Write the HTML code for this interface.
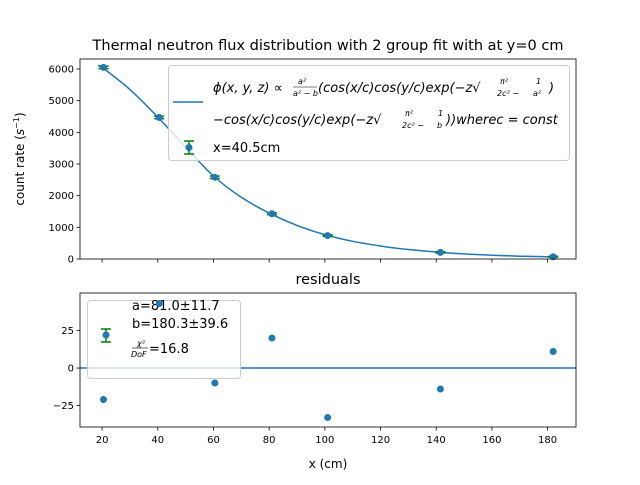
<!DOCTYPE html>
<html><head><meta charset="utf-8"><style>
body{margin:0;background:#fff}
svg{font-family:"DejaVu Sans","Liberation Sans",sans-serif}
</style></head><body>
<svg id="c" width="640" height="480" viewBox="0 0 640 480" xmlns="http://www.w3.org/2000/svg">
<text x="328" y="50" text-anchor="middle" font-size="14.5">Thermal neutron flux distribution with 2 group fit with at y=0 cm</text>
<text x="328" y="284" text-anchor="middle" font-size="14.5">residuals</text>
<text x="328" y="468" text-anchor="middle" font-size="12">x (cm)</text>
<text transform="translate(24,159) rotate(-90)" text-anchor="middle" font-size="12">count rate (<tspan font-style="italic">s</tspan><tspan font-size="8" dy="-5">−1</tspan><tspan dy="5">)</tspan></text>
<g id="top"></g>
<g id="bot"></g>
</svg>
<script>
const xData=[20.5,40.5,60.5,81,101,141.5,182];
const yData=[6050,4470,2580,1430,740,210,70];
const yErr=[40,40,40,30,25,20,15];
const residuals=[-21,43,-10,20,-33,-14,11];
const fitX=[19,20,30,40,50,60,70,80,90,100,110,120,130,140,150,160,170,180,183];
const fitY=[6080,6050,5350,4480,3530,2620,1950,1450,1060,770,560,410,300,220,160,120,90,70,65];
const xTicks=[20,40,60,80,100,120,140,160,180];
const yTicksTop=[0,1000,2000,3000,4000,5000,6000];
const yTicksBot=[-25,0,25];
{
const NS="http://www.w3.org/2000/svg";
const L=80,R=576,T1=59,B1=259,T2=293,B2=427;
const X0=12.06,X1=190.2;
const sx=v=>L+(v-X0)*(R-L)/(X1-X0);
const syT=v=>B1-v*(B1-T1)/6316;
const syB=v=>B2-(v+39.3)*(B2-T2)/89.3;
function el(p,tag,a,txt){const e=document.createElementNS(NS,tag);for(const k in a)e.setAttribute(k,a[k]);if(txt!==undefined)e.textContent=txt;p.appendChild(e);return e;}
const topG=document.getElementById('top'),botG=document.getElementById('bot');
const P=fitX.map((x,i)=>[sx(x),syT(fitY[i])]);
let d='M'+P[0][0].toFixed(1)+','+P[0][1].toFixed(1);
for(let i=0;i<P.length-1;i++){
 const p0=P[Math.max(i-1,0)],p1=P[i],p2=P[i+1],p3=P[Math.min(i+2,P.length-1)];
 const c1=[p1[0]+(p2[0]-p0[0])/6,p1[1]+(p2[1]-p0[1])/6];
 const c2=[p2[0]-(p3[0]-p1[0])/6,p2[1]-(p3[1]-p1[1])/6];
 d+='C'+c1[0].toFixed(1)+','+c1[1].toFixed(1)+' '+c2[0].toFixed(1)+','+c2[1].toFixed(1)+' '+p2[0].toFixed(1)+','+p2[1].toFixed(1);
}
const fl=el(topG,'path',{d:d,fill:'none',stroke:'#1f77b4','stroke-width':1.5});


xData.forEach((x,i)=>{
 const g=el(topG,'g',{});
 
 
 const cx=sx(x),y1=syT(yData[i]+yErr[i]),y2=syT(yData[i]-yErr[i]);
 el(g,'line',{x1:cx,x2:cx,y1:y1,y2:y2,stroke:'green','stroke-width':1.5});
 el(g,'line',{x1:cx-5,x2:cx+5,y1:y1,y2:y1,stroke:'green','stroke-width':1.5});
 el(g,'line',{x1:cx-5,x2:cx+5,y1:y2,y2:y2,stroke:'green','stroke-width':1.5});
 el(g,'circle',{cx:cx,cy:syT(yData[i]),r:3.5,fill:'#1f77b4'});
});
const zl=el(botG,'line',{x1:L,x2:R,y1:syB(0),y2:syB(0),stroke:'#1f77b4','stroke-width':1.5});


const lg=el(topG,'g',{});


el(lg,'rect',{x:168.5,y:65.5,width:401,height:95,rx:3,fill:'#fff','fill-opacity':0.8,stroke:'#ccc'});
el(lg,'line',{x1:173,x2:203,y1:102,y2:102,stroke:'#1f77b4','stroke-width':1.5});
el(lg,'line',{x1:189,x2:189,y1:141,y2:154,stroke:'green','stroke-width':1.5});
el(lg,'line',{x1:184,x2:194,y1:141,y2:141,stroke:'green','stroke-width':1.5});
el(lg,'line',{x1:184,x2:194,y1:154,y2:154,stroke:'green','stroke-width':1.5});
el(lg,'circle',{cx:189,cy:147.5,r:3.5,fill:'#1f77b4'});
el(lg,'text',{x:213,y:92,'font-size':13,'font-style':'italic'},'ϕ(x, y, z) ∝');
el(lg,'text',{x:298,y:84,'font-size':8,'font-style':'italic'},'a²');
el(lg,'line',{x1:293,x2:317,y1:87,y2:87,stroke:'#000','stroke-width':0.6});
el(lg,'text',{x:293,y:96,'font-size':8,'font-style':'italic'},'a² − b');
el(lg,'text',{x:318,y:92,'font-size':13,'font-style':'italic'},'(cos(x/c)cos(y/c)exp(−z√');
el(lg,'text',{x:500,y:84,'font-size':8,'font-style':'italic'},'π²');
el(lg,'text',{x:497,y:96,'font-size':8,'font-style':'italic'},'2c²  −');
el(lg,'text',{x:536,y:84,'font-size':8,'font-style':'italic'},'1');
el(lg,'text',{x:533,y:96,'font-size':8,'font-style':'italic'},'a²');
el(lg,'text',{x:549,y:92,'font-size':13,'font-style':'italic'},')');
el(lg,'text',{x:213,y:124,'font-size':13,'font-style':'italic'},'−cos(x/c)cos(y/c)exp(−z√');
el(lg,'text',{x:405,y:116,'font-size':8,'font-style':'italic'},'π²');
el(lg,'text',{x:402,y:128,'font-size':8,'font-style':'italic'},'2c²  −');
el(lg,'text',{x:438,y:116,'font-size':8,'font-style':'italic'},'1');
el(lg,'text',{x:437,y:128,'font-size':8,'font-style':'italic'},'b');
el(lg,'text',{x:446,y:124,'font-size':13,'font-style':'italic'},'))wherec = const');
el(lg,'text',{x:213,y:152,'font-size':13},'x=40.5cm');
const lg2=el(botG,'g',{});


el(lg2,'rect',{x:87.5,y:300.5,width:153,height:78,rx:3,fill:'#fff','fill-opacity':0.8,stroke:'#ccc'});
el(lg2,'line',{x1:106,x2:106,y1:329,y2:342,stroke:'green','stroke-width':1.5});
el(lg2,'line',{x1:101,x2:111,y1:329,y2:329,stroke:'green','stroke-width':1.5});
el(lg2,'line',{x1:101,x2:111,y1:342,y2:342,stroke:'green','stroke-width':1.5});
el(lg2,'circle',{cx:106,cy:335,r:3.5,fill:'#1f77b4'});
el(lg2,'text',{x:132,y:310,'font-size':13},'a=81.0±11.7');
el(lg2,'text',{x:132,y:328,'font-size':13},'b=180.3±39.6');
el(lg2,'text',{x:137,y:346,'font-size':8,'font-style':'italic'},'χ²');
el(lg2,'line',{x1:132,x2:148,y1:348,y2:348,stroke:'#000','stroke-width':0.6});
el(lg2,'text',{x:131,y:357,'font-size':8,'font-style':'italic'},'DoF');
el(lg2,'text',{x:149,y:353,'font-size':13},'=16.8');
residuals.forEach((r,i)=>{
 const c=el(botG,'circle',{cx:sx(xData[i]),cy:syB(r),r:3.5,fill:'#1f77b4'});
 
 
});
[[T1,B1,topG],[T2,B2,botG]].forEach(([t,b,g])=>{
 const f=el(g,'rect',{x:L,y:t,width:R-L,height:b-t,fill:'none',stroke:'#000','stroke-width':0.8});
 
 
 xTicks.forEach(v=>{el(g,'line',{x1:sx(v),x2:sx(v),y1:b,y2:b+3.5,stroke:'#000','stroke-width':0.8});});
});
xTicks.forEach(v=>{
 const t=el(botG,'text',{x:sx(v),y:B2+16,'text-anchor':'middle','font-size':10},String(v));
 
 
});
yTicksTop.forEach(v=>{
 el(topG,'line',{x1:L-3.5,x2:L,y1:syT(v),y2:syT(v),stroke:'#000','stroke-width':0.8});
 const t=el(topG,'text',{x:L-6,y:syT(v)+3.5,'text-anchor':'end','font-size':10},String(v));
 
 
});
yTicksBot.forEach(v=>{
 el(botG,'line',{x1:L-3.5,x2:L,y1:syB(v),y2:syB(v),stroke:'#000','stroke-width':0.8});
 const t=el(botG,'text',{x:L-6,y:syB(v)+3.5,'text-anchor':'end','font-size':10},v<0?'−'+(-v):String(v));
 
 
});
}
</script>
</body></html>
